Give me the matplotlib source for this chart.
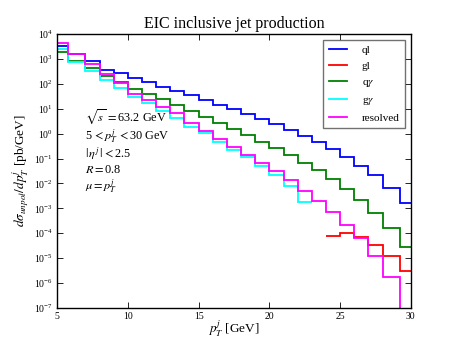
import numpy as np
import matplotlib
matplotlib.use('Agg')
import matplotlib.pyplot as plt
from matplotlib.ticker import NullLocator, LogLocator

plt.rcParams['font.family'] = ['Liberation Serif', 'DejaVu Serif']
plt.rcParams['mathtext.fontset'] = 'stix'

# bin edges in GeV (first and last bins are irregular in the original)
edges = [5, 5.75, 7, 8, 9, 10, 11, 12, 13, 14, 15, 16, 17, 18, 19, 20,
         21, 22, 23, 24, 25, 26, 27, 28, 29.25, 30]

# log10 of dsigma/dpT [pb/GeV] per bin
ql_log = [3.53, 3.18, 2.93, 2.56, 2.42, 2.25, 2.06, 1.89, 1.72, 1.53, 1.33, 1.15,
          0.98, 0.80, 0.59, 0.37, 0.15, -0.09, -0.32, -0.60, -0.92, -1.28, -1.67,
          -2.19, -2.78]
qgam_log = [3.28, 2.92, 2.62, 2.31, 2.06, 1.80, 1.58, 1.40, 1.15, 0.90, 0.66, 0.42,
            0.18, -0.05, -0.32, -0.58, -0.85, -1.16, -1.45, -1.83, -2.23, -2.67,
            -3.17, -3.79, -4.55]
ggam_log = [3.40, 2.89, 2.53, 2.16, 1.82, 1.46, 1.22, 0.91, 0.62, 0.28, 0.02, -0.32,
            -0.65, -0.94, -1.29, -1.65, -2.12, -2.74]
resolved_log = [3.65, 3.20, 2.80, 2.38, 2.02, 1.59, 1.35, 1.08, 0.82, 0.44, 0.11,
                -0.22, -0.52, -0.85, -1.16, -1.52, -1.88, -2.30, -2.70, -3.14,
                -3.66, -4.20, -4.93, -5.75, -7.5]
gl_log = [-4.10, -3.97, -4.16, -4.47, -4.90, -5.53]   # bins from 24 GeV on

info = [r'$\sqrt{s}\,=$63.2 GeV', r'5$\,<p_T^j\,<$30 GeV', r'$|\,\eta^j\,|<$2.5',
        r'$R=$0.8', r'$\mu=p_T^j$']

fig = plt.figure(figsize=(4.57, 3.43), dpi=100)
ax = fig.add_axes([0.125, 0.102, 0.774, 0.799])

lw = 1.3
ax.stairs(10 ** np.array(ql_log), edges, color='blue', lw=lw, baseline=None, label='ql')
ax.stairs(10 ** np.array(gl_log), edges[-7:], color='red', lw=lw, baseline=None, label='gl')
ax.stairs(10 ** np.array(qgam_log), edges, color='green', lw=lw, baseline=None, label=r'q$\gamma$')
ax.stairs(10 ** np.array(ggam_log), edges[:len(ggam_log) + 1], color='cyan', lw=lw,
          baseline=None, label=r'g$\gamma$')
ax.stairs(10 ** np.array(resolved_log), edges, color='magenta', lw=lw, baseline=None,
          label='resolved')

ax.set_yscale('log')
ax.set_xlim(5, 30)
ax.set_ylim(1e-7, 1e4)
ax.yaxis.set_major_locator(LogLocator(base=10, numticks=20))
ax.yaxis.set_minor_locator(NullLocator())
ax.tick_params(direction='in', top=True, right=True, labelsize=7, length=4, width=0.6, pad=3)
for s in ax.spines.values():
    s.set_linewidth(1.0)

ax.set_title('EIC inclusive jet production', fontsize=11.5, pad=4)
ax.set_xlabel(r'$p_T^j$ [GeV]', fontsize=9.5)
ax.set_ylabel(r'$d\sigma_{unpol}/dp_T^j$ [pb/GeV]', fontsize=9.5)
ax.xaxis.set_label_coords(0.5, -0.04)
ax.yaxis.set_label_coords(-0.075, 0.5)

for t, yy in zip(info, [0.70, 0.627, 0.562, 0.502, 0.444]):
    ax.text(0.08, yy, t, transform=ax.transAxes, fontsize=8.8, va='center')

leg = ax.legend(loc='upper right', fontsize=8, fancybox=False, edgecolor='0.3',
                borderaxespad=0.5, handlelength=1.7, handletextpad=1.3,
                labelspacing=0.55, borderpad=0.5)
leg.get_frame().set_linewidth(1.0)

fig.savefig('out.png', dpi=100)
